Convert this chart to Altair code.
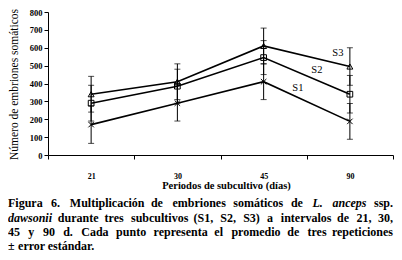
import altair as alt
import pandas as pd

cats = ["21", "30", "45", "90"]
series = ["S1", "S2", "S3"]
s1_vals = [170, 290, 410, 188]
s1_err = [105, 100, 100, 100]
s2_vals = [290, 385, 545, 340]
s2_err = [100, 95, 95, 105]
s3_vals = [340, 410, 610, 495]
s3_err = [100, 100, 100, 105]

label_vals = [373, 476, 568]  # S1, S2, S3 label heights

y_title = "Número de embriones somáticos"
x_title = "Periodos de subcultivo (días)"

# caption lines: (word, italic)
caption_lines = [
    [("Figura", 0), ("6.", 0), ("Multiplicación", 0), ("de", 0), ("embriones", 0), ("somáticos", 0),
     ("de", 0), ("L.", 1), ("anceps", 1), ("ssp.", 0)],
    [("dawsonii", 1), ("durante", 0), ("tres", 0), ("subcultivos", 0), ("(S1,", 0), ("S2,", 0),
     ("S3)", 0), ("a", 0), ("intervalos", 0), ("de", 0), ("21,", 0), ("30,", 0)],
    [("45", 0), ("y", 0), ("90", 0), ("d.", 0), ("Cada", 0), ("punto", 0), ("representa", 0),
     ("el", 0), ("promedio", 0), ("de", 0), ("tres", 0), ("repeticiones", 0)],
    [("±", 0), ("error", 0), ("estándar.", 0)],
]

rows = []
for s, vals, errs in [("S1", s1_vals, s1_err), ("S2", s2_vals, s2_err), ("S3", s3_vals, s3_err)]:
    for c, v, e in zip(cats, vals, errs):
        rows.append({"cat": c, "serie": s, "val": v, "lo": v - e, "hi": v + e})
df = pd.DataFrame(rows)

FONT = "Liberation Serif"
W, H = 345, 143
TOP = 4

xscale = alt.Scale(type="band", domain=cats, paddingInner=0, paddingOuter=0)
yscale = alt.Scale(domain=[0, 800], nice=False)

xaxis = alt.Axis(title=x_title, titleFont=FONT, titleFontSize=10.5, titleFontWeight="bold",
                 titleColor="black", titleX=178, titleY=30, titleBaseline="middle",
                 labelFont=FONT, labelFontSize=8, labelFontWeight="bold", labelColor="black",
                 labelPadding=13, tickSize=4, tickBand="extent", tickColor="black",
                 domainColor="black", labelAngle=0, grid=False)
yaxis = alt.Axis(title=y_title, titleFont=FONT, titleFontSize=11.5, titleFontWeight="normal",
                 titleColor="black", titleX=-34, titleY=72, titleAngle=-90, titleAlign="center",
                 titleBaseline="middle",
                 values=list(range(0, 801, 100)), labelOverlap=False, labelFont=FONT,
                 labelFontSize=8.5, labelFontWeight="bold", labelColor="black", labelPadding=2,
                 tickSize=4, tickColor="black", domainColor="black", grid=False)


def X():
    return alt.X("cat:N", scale=xscale, axis=xaxis, sort=cats)


def Y(field):
    return alt.Y(field, scale=yscale, axis=yaxis)


base = alt.Chart(df)

err = base.mark_rule(color="black", strokeWidth=1).encode(x=X(), y=Y("lo:Q"), y2="hi:Q")
cap_lo = base.mark_tick(color="black", size=6, thickness=1).encode(x=X(), y=Y("lo:Q"))
cap_hi = base.mark_tick(color="black", size=6, thickness=1).encode(x=X(), y=Y("hi:Q"))

lines = base.mark_line(color="black", strokeWidth=1.6).encode(
    x=X(), y=Y("val:Q"), detail="serie:N")

xshape = "M-1,-1L1,1M-1,1L1,-1"
points = base.mark_point(filled=False, color="black", strokeWidth=1, opacity=1).encode(
    x=X(), y=Y("val:Q"),
    shape=alt.Shape("serie:N", scale=alt.Scale(domain=series, range=[xshape, "square", "triangle-up"]),
                    legend=None),
    size=alt.Size("serie:N", scale=alt.Scale(domain=series, range=[30, 35, 60]), legend=None))

lab_df = pd.DataFrame({"serie": series, "cat": ["90"] * 3, "v": label_vals})
labels = []
for s, dx in zip(series, [-52, -33, -12]):
    labels.append(alt.Chart(lab_df[lab_df.serie == s]).mark_text(
        font=FONT, fontSize=10.5, color="black", dx=dx, baseline="middle").encode(
        x=X(), y=Y("v:Q"), text="serie:N"))

# ---- justified caption (approximate Times Bold metrics, per 1000 em) ----
BOLD = {" ": 250, "(": 333, ")": 333, ",": 250, ".": 250, "F": 611, "L": 667, "M": 944,
        "C": 722, "S": 556, "a": 500, "b": 556, "c": 444, "d": 556, "e": 444, "g": 500,
        "i": 278, "l": 278, "m": 833, "n": 556, "o": 500, "p": 556, "r": 444, "s": 389,
        "t": 333, "u": 556, "v": 500, "w": 722, "y": 500, "á": 500, "ó": 500, "í": 278,
        "±": 570}
BITAL = {"L": 611, ".": 250, "a": 500, "n": 556, "c": 444, "e": 444, "p": 500, "s": 389,
         "d": 500, "w": 667, "o": 500, "i": 278}
CSIZE = 12
CAL = 0.95


def wwidth(word, ital):
    table = BITAL if ital else BOLD
    return sum(table.get(ch, 500) for ch in word) / 1000 * CSIZE * CAL


LEFT, RIGHT = 8, 393
line_y = [203, 217.5, 232, 246]
cap_rows = []
for li, words in enumerate(caption_lines):
    widths = [wwidth(w, it) for w, it in words]
    justify = li < 3
    gap = (RIGHT - LEFT - sum(widths)) / (len(words) - 1) if justify else 0.3 * CSIZE
    x = LEFT
    for k, ((w, it), wd) in enumerate(zip(words, widths)):
        last = justify and k == len(words) - 1
        cap_rows.append({"t": w, "px": (RIGHT if last else x) - 48, "py": line_y[li] - 8 - TOP,
                         "st": "italic" if it else "normal", "al": "right" if last else "left"})
        x += wd + gap
cap_df = pd.DataFrame(cap_rows)

cap = []
for st in ["normal", "italic"]:
    for al in ["left", "right"]:
        sub = cap_df[(cap_df.st == st) & (cap_df.al == al)]
        if len(sub) == 0:
            continue
        cap.append(alt.Chart(sub).mark_text(
            font=FONT, fontSize=CSIZE, fontWeight="bold", fontStyle=st, color="black",
            align=al, baseline="middle").encode(
            x=alt.X("px:Q", scale=None), y=alt.Y("py:Q", scale=None), text="t:N"))

chart = alt.layer(err, cap_lo, cap_hi, lines, points, *labels, *cap).properties(
    width=W, height=H, padding={"left": 40, "top": TOP, "right": 1, "bottom": 244 - TOP - H},
    autosize=alt.AutoSizeParams(type="none"),
    background="white",
).configure_view(stroke=None)

chart.save("out.html", embed_options={"renderer": "svg", "actions": False})
